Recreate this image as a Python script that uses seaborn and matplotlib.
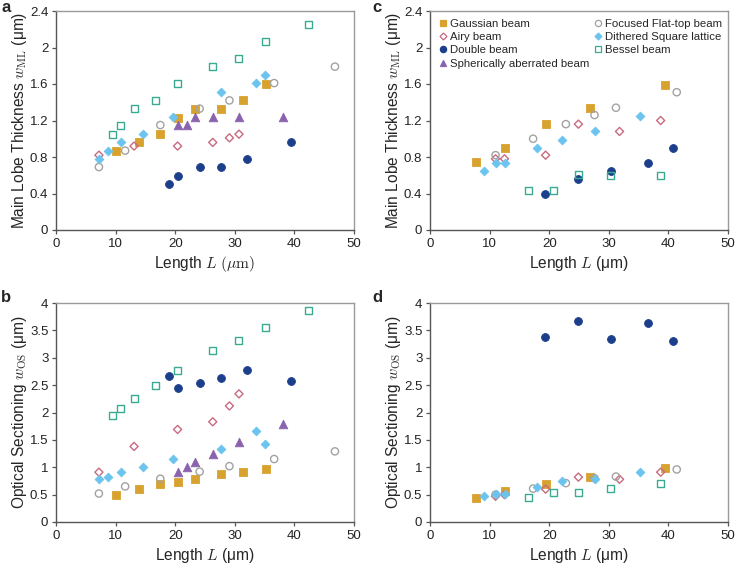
import matplotlib
matplotlib.use("Agg")
import matplotlib.pyplot as plt
from matplotlib.lines import Line2D
import seaborn as sns
import pandas as pd

sns.set_style("ticks")
plt.rcParams['font.family'] = ['Liberation Sans', 'DejaVu Sans']
plt.rcParams['mathtext.fontset'] = 'cm'

# ---------------- data ----------------
series_names = ["Gaussian beam", "Airy beam", "Double beam", "Spherically aberrated beam",
                "Focused Flat-top beam", "Dithered Square lattice", "Bessel beam"]

# Panel a: main lobe thickness (Gaussian-like group)
a_gauss_x = [10.1, 13.9, 17.5, 20.5, 23.4, 27.7, 31.4, 35.2]
a_gauss_y = [0.87, 0.96, 1.05, 1.23, 1.33, 1.33, 1.42, 1.60]
a_airy_x = [7.2, 13.1, 20.4, 26.3, 29.1, 30.7]
a_airy_y = [0.82, 0.92, 0.92, 0.96, 1.01, 1.05]
a_double_x = [19.0, 20.4, 24.1, 27.7, 32.1, 39.4]
a_double_y = [0.50, 0.59, 0.69, 0.69, 0.78, 0.96]
a_sph_x = [20.4, 21.9, 23.4, 26.3, 30.7, 38.1]
a_sph_y = [1.15, 1.15, 1.24, 1.24, 1.24, 1.24]
a_flat_x = [7.2, 11.6, 17.5, 24.1, 29.1, 36.6, 46.8]
a_flat_y = [0.69, 0.87, 1.15, 1.33, 1.42, 1.61, 1.79]
a_dith_x = [7.2, 8.7, 10.9, 14.6, 19.6, 27.7, 33.6, 35.1]
a_dith_y = [0.78, 0.87, 0.96, 1.05, 1.24, 1.51, 1.61, 1.70]
a_bessel_x = [9.4, 10.8, 13.1, 16.7, 20.4, 26.2, 30.7, 35.1, 42.4]
a_bessel_y = [1.05, 1.15, 1.33, 1.42, 1.61, 1.79, 1.88, 2.07, 2.25]

# Panel b: optical sectioning (same lengths as panel a)
b_gauss_y = [0.50, 0.60, 0.69, 0.73, 0.79, 0.87, 0.91, 0.96]
b_airy_y = [0.91, 1.38, 1.69, 1.83, 2.12, 2.34]
b_double_y = [2.67, 2.44, 2.54, 2.63, 2.77, 2.58]
b_sph_y = [0.91, 1.01, 1.10, 1.24, 1.47, 1.79]
b_flat_y = [0.52, 0.65, 0.79, 0.92, 1.02, 1.15, 1.29]
b_dith_y = [0.78, 0.82, 0.91, 1.01, 1.15, 1.33, 1.66, 1.42]
b_bessel_y = [1.94, 2.07, 2.26, 2.50, 2.77, 3.13, 3.32, 3.55, 3.86]

# Panel c: main lobe thickness (second group)
c_gauss_x = [7.7, 12.5, 19.5, 26.9, 39.4]
c_gauss_y = [0.74, 0.90, 1.16, 1.34, 1.59]
c_airy_x = [11.0, 12.5, 19.4, 24.9, 31.8, 38.7]
c_airy_y = [0.78, 0.78, 0.82, 1.16, 1.08, 1.20]
c_double_x = [19.3, 24.9, 30.3, 36.6, 40.8]
c_double_y = [0.39, 0.56, 0.65, 0.73, 0.90]
c_flat_x = [11.0, 17.3, 22.8, 27.6, 31.2, 41.4]
c_flat_y = [0.82, 1.00, 1.16, 1.26, 1.34, 1.51]
c_dith_x = [9.1, 11.1, 12.5, 18.0, 22.1, 27.7, 35.3]
c_dith_y = [0.65, 0.73, 0.73, 0.90, 0.99, 1.08, 1.25]
c_bessel_x = [16.6, 20.7, 24.9, 30.3, 38.7]
c_bessel_y = [0.43, 0.43, 0.61, 0.60, 0.60]

# Panel d: optical sectioning (same lengths as panel c)
d_gauss_y = [0.43, 0.57, 0.69, 0.83, 0.99]
d_airy_y = [0.47, 0.50, 0.60, 0.82, 0.78, 0.91]
d_double_y = [3.38, 3.68, 3.34, 3.64, 3.30]
d_flat_y = [0.50, 0.61, 0.71, 0.80, 0.83, 0.96]
d_dith_y = [0.47, 0.52, 0.52, 0.64, 0.74, 0.78, 0.92]
d_bessel_y = [0.44, 0.53, 0.53, 0.61, 0.71]

# ---------------- styles ----------------
styles = {
    "Gaussian beam": dict(marker="s", color="#D8A22E", filled=True),
    "Airy beam": dict(marker="D", color="#C86A80", filled=False),
    "Double beam": dict(marker="o", color="#1C3F8C", filled=True),
    "Spherically aberrated beam": dict(marker="^", color="#8A63AE", filled=True),
    "Focused Flat-top beam": dict(marker="o", color="#A2A2A2", filled=False),
    "Dithered Square lattice": dict(marker="D", color="#6CC4EE", filled=True),
    "Bessel beam": dict(marker="s", color="#3AAA92", filled=False),
}
sizes = {"s": 30, "D": 20, "o": 32, "^": 38}

panel_a = {
    "Gaussian beam": (a_gauss_x, a_gauss_y),
    "Airy beam": (a_airy_x, a_airy_y),
    "Double beam": (a_double_x, a_double_y),
    "Spherically aberrated beam": (a_sph_x, a_sph_y),
    "Focused Flat-top beam": (a_flat_x, a_flat_y),
    "Dithered Square lattice": (a_dith_x, a_dith_y),
    "Bessel beam": (a_bessel_x, a_bessel_y),
}
panel_b = {
    "Gaussian beam": (a_gauss_x, b_gauss_y),
    "Airy beam": (a_airy_x, b_airy_y),
    "Double beam": (a_double_x, b_double_y),
    "Spherically aberrated beam": (a_sph_x, b_sph_y),
    "Focused Flat-top beam": (a_flat_x, b_flat_y),
    "Dithered Square lattice": (a_dith_x, b_dith_y),
    "Bessel beam": (a_bessel_x, b_bessel_y),
}
panel_c = {
    "Gaussian beam": (c_gauss_x, c_gauss_y),
    "Airy beam": (c_airy_x, c_airy_y),
    "Double beam": (c_double_x, c_double_y),
    "Focused Flat-top beam": (c_flat_x, c_flat_y),
    "Dithered Square lattice": (c_dith_x, c_dith_y),
    "Bessel beam": (c_bessel_x, c_bessel_y),
}
panel_d = {
    "Gaussian beam": (c_gauss_x, d_gauss_y),
    "Airy beam": (c_airy_x, d_airy_y),
    "Double beam": (c_double_x, d_double_y),
    "Focused Flat-top beam": (c_flat_x, d_flat_y),
    "Dithered Square lattice": (c_dith_x, d_dith_y),
    "Bessel beam": (c_bessel_x, d_bessel_y),
}

W, H = 736, 566
fig = plt.figure(figsize=(W / 100, H / 100), dpi=100)

def box(l, r, t, b):
    return [l / W, 1 - b / H, (r - l) / W, (b - t) / H]

ax_a = fig.add_axes(box(56, 354, 11, 230))
ax_c = fig.add_axes(box(430, 728, 11, 230))
ax_b = fig.add_axes(box(56, 354, 303, 522))
ax_d = fig.add_axes(box(430, 728, 303, 522))

def draw(ax, panel):
    for name, (xs, ys) in panel.items():
        st = styles[name]
        df = pd.DataFrame({"L": xs, "w": ys})
        if st["filled"]:
            sns.scatterplot(data=df, x="L", y="w", ax=ax, marker=st["marker"],
                            color=st["color"], edgecolor=st["color"], linewidth=0.6,
                            s=sizes[st["marker"]], legend=False, zorder=3)
        else:
            sns.scatterplot(data=df, x="L", y="w", ax=ax, marker=st["marker"],
                            color=st["color"], facecolors="none", edgecolor=st["color"],
                            linewidth=1.0, s=sizes[st["marker"]] * 0.85, legend=False, zorder=3)

def style_axes(ax, ymax, ystep, ylabel, xlabel):
    ax.set_xlim(0, 50)
    ax.set_ylim(0, ymax)
    ax.set_xticks(range(0, 51, 10))
    yt = [round(i * ystep, 2) for i in range(int(round(ymax / ystep)) + 1)]
    ax.set_yticks(yt)
    ax.set_yticklabels([("%g" % v) for v in yt])
    for side in ["top", "right"]:
        ax.spines[side].set_visible(True)
        ax.spines[side].set_color("#9a9a9a")
        ax.spines[side].set_linewidth(1.0)
    for side in ["left", "bottom"]:
        ax.spines[side].set_color("#555555")
        ax.spines[side].set_linewidth(1.0)
    ax.tick_params(axis="both", direction="out", length=3, width=0.9, color="#555555",
                   labelsize=9.5, labelcolor="#222222", pad=2.5)
    ax.set_xlabel(xlabel, fontsize=11.2, labelpad=3)
    ax.set_ylabel(ylabel, fontsize=11.2, labelpad=0.5)

draw(ax_a, panel_a)
draw(ax_b, panel_b)
draw(ax_c, panel_c)
draw(ax_d, panel_d)

ylab_ml = r"Main Lobe Thickness $w_{\mathrm{ML}}$ (μm)"
ylab_os = r"Optical Sectioning $w_{\mathrm{OS}}$ (μm)"
style_axes(ax_a, 2.4, 0.4, ylab_ml, r"Length $L$ $(\mathrm{\mu m})$")
style_axes(ax_c, 2.4, 0.4, ylab_ml, r"Length $L$ (μm)")
style_axes(ax_b, 4.0, 0.5, ylab_os, r"Length $L$ (μm)")
style_axes(ax_d, 4.0, 0.5, ylab_os, r"Length $L$ (μm)")

# legend in panel c
handles = []
for name in series_names:
    st = styles[name]
    handles.append(Line2D([], [], linestyle="none", marker=st["marker"],
                          markersize=4.5 if st["marker"] != "D" else 3.5,
                          markerfacecolor=st["color"] if st["filled"] else "none",
                          markeredgecolor=st["color"], markeredgewidth=0.9,
                          label=name))
ax_c.legend(handles=handles, ncol=2, loc="upper left", frameon=False,
            fontsize=8.2, handletextpad=0.15, columnspacing=0.35, labelspacing=0.28,
            borderaxespad=0.3, handlelength=0.9, bbox_to_anchor=(0.0, 1.0))

for letter, x, y in [("a", 1, 0), ("c", 372, 0), ("b", 1, 290), ("d", 372, 290)]:
    fig.text(x / W, 1 - y / H, letter, fontsize=12, fontweight="bold", va="top", ha="left")

fig.savefig("out.png", dpi=100)
